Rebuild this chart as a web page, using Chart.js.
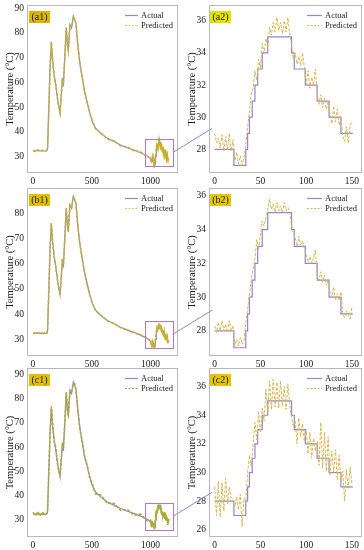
<!DOCTYPE html>
<html>
<head>
<meta charset="utf-8">
<script src="https://cdn.jsdelivr.net/npm/chart.js@4.4.1/dist/chart.umd.min.js"></script>
<style>
  html, body { margin: 0; padding: 0; background: #fff; }
  #wrap { position: relative; width: 364px; height: 550px; overflow: hidden; }
  #wrap canvas { position: absolute; }
</style>
</head>
<body>
<div id="wrap">
  <canvas id="c-a1" width="182" height="188" style="left:0;top:0"></canvas>
  <canvas id="c-a2" width="182" height="188" style="left:182px;top:0"></canvas>
  <canvas id="c-b1" width="182" height="188" style="left:0;top:183px"></canvas>
  <canvas id="c-b2" width="182" height="188" style="left:182px;top:183px"></canvas>
  <canvas id="c-c1" width="182" height="187" style="left:0;top:363px"></canvas>
  <canvas id="c-c2" width="182" height="187" style="left:182px;top:363px"></canvas>
  <canvas id="overlay" width="364" height="550" style="left:0;top:0;pointer-events:none"></canvas>
</div>
<script>
// full run (left column): time and temperature
const mainTime   = [0, 20, 40, 60, 80, 100, 118, 124, 135, 145, 156, 164, 180, 193, 212, 230, 241, 250, 258, 270, 283, 292, 300, 314, 328, 343, 354, 365, 382, 399, 419, 439, 462, 484, 504, 532, 575, 632, 688, 745, 802, 858, 915, 972, 1000];
const mainActual = [32.4, 32.3, 32.5, 32.3, 32.4, 32.3, 32.4, 33.5, 50, 66, 76, 70, 63, 59, 52.3, 47.6, 55, 61.8, 58.4, 70, 82, 76, 72.6, 83.4, 82, 86.8, 85.4, 84, 74.6, 67.8, 61.8, 56.4, 51.6, 47.6, 44.2, 41.5, 39.5, 37.4, 36.1, 34.7, 33.6, 32.7, 31.6, 30.3, 29.2];
const mainPredA  = [32.6, 32.1, 32.7, 32.2, 32.6, 32.1, 32.5, 33.8, 50.4, 65.6, 76.4, 70.5, 62.6, 59.4, 52.0, 47.9, 55.3, 61.5, 58.8, 69.6, 82.3, 75.6, 72.9, 83.1, 82.4, 86.5, 85.7, 83.7, 74.9, 67.5, 62.1, 56.1, 51.9, 47.3, 44.5, 41.2, 39.8, 37.1, 36.4, 34.4, 33.9, 32.4, 31.9, 30.0, 29.5];
const mainPredB  = [32.3, 32.4, 32.4, 32.4, 32.3, 32.4, 32.3, 33.6, 50.2, 65.8, 76.2, 70.2, 62.8, 59.2, 52.1, 47.7, 55.1, 61.7, 58.6, 69.8, 82.1, 75.8, 72.7, 83.2, 82.2, 86.6, 85.5, 83.9, 74.7, 67.7, 61.9, 56.3, 51.7, 47.5, 44.3, 41.4, 39.6, 37.3, 36.2, 34.6, 33.7, 32.6, 31.7, 30.2, 29.3];
const mainPredC  = [33.2, 31.8, 33.4, 31.7, 33.3, 31.9, 33.0, 34.2, 50.9, 65.1, 76.8, 71.1, 62.2, 59.9, 51.6, 48.3, 55.7, 61.1, 59.2, 69.3, 82.6, 75.2, 73.3, 82.7, 82.8, 86.2, 86.1, 83.4, 75.3, 67.1, 62.5, 55.8, 52.3, 46.9, 44.9, 40.8, 40.3, 36.8, 36.9, 34.0, 34.3, 32.0, 32.4, 29.6, 29.9];

// zoomed window (right column)
const ZOOM_OFFSET = 1005;
const stepTimes = [0, 21, 34, 36, 38, 41, 44, 47, 52, 58, 84, 87, 99, 112, 125, 138, 151];
const stepTemps = [28, 27, 28, 29, 30, 31, 32, 33, 34, 35, 34, 33, 32, 31, 30, 29];

const zoomTime = [0, 2, 4, 6, 8, 10, 12, 14, 16, 18, 20, 22, 24, 26, 28, 30, 32, 34, 36, 38, 40, 42, 44, 46, 48, 50, 52, 54, 56, 58, 60, 62, 64, 66, 68, 70, 72, 74, 76, 78, 80, 82, 84, 86, 88, 90, 92, 94, 96, 98, 100, 102, 104, 106, 108, 110, 112, 114, 116, 118, 120, 122, 124, 126, 128, 130, 132, 134, 136, 138, 140, 142, 144, 146, 148, 150];
const zoomPredA = [29.0, 28.4, 28.7, 28.1, 28.9, 27.9, 28.8, 28.0, 29.0, 27.9, 28.6, 27.3, 27.8, 27.1, 27.6, 27.0, 27.5, 28.3, 29.4, 30.4, 31.5, 31.8, 32.9, 32.3, 33.6, 33.0, 34.6, 34.0, 34.9, 34.3, 35.6, 35.1, 35.9, 35.3, 36.2, 35.4, 35.9, 35.2, 36.0, 35.3, 36.2, 35.2, 34.5, 33.6, 34.0, 33.3, 33.8, 33.2, 34.0, 33.1, 32.0, 32.9, 31.8, 32.5, 32.0, 33.0, 31.5, 30.8, 31.4, 30.6, 31.2, 30.5, 31.0, 30.2, 29.6, 30.7, 29.7, 30.5, 29.5, 30.0, 28.8, 28.5, 29.4, 28.4, 29.5, 29.8];
const zoomPredB = [28.3, 27.9, 28.5, 28.0, 28.6, 28.0, 28.4, 27.9, 28.6, 28.0, 28.3, 27.1, 27.5, 27.1, 27.6, 27.2, 27.4, 28.5, 29.3, 30.2, 31.0, 31.7, 32.3, 33.4, 32.8, 33.7, 34.5, 34.2, 34.7, 35.2, 35.8, 35.2, 35.5, 35.0, 35.6, 35.1, 35.4, 35.0, 35.6, 35.1, 35.3, 35.0, 34.3, 33.8, 33.5, 33.0, 33.6, 33.1, 33.3, 32.9, 32.5, 32.1, 32.4, 32.0, 32.3, 32.8, 31.3, 31.0, 31.5, 30.9, 31.3, 30.7, 31.0, 30.3, 30.0, 30.6, 29.8, 30.2, 29.8, 30.3, 29.0, 28.8, 29.2, 28.9, 28.7, 29.4];
const zoomPredC = [29.0, 27.0, 29.4, 26.9, 29.3, 27.3, 29.6, 27.8, 29.0, 28.2, 28.0, 27.6, 28.3, 27.4, 28.5, 26.2, 28.2, 28.0, 30.0, 31.2, 30.4, 32.0, 33.5, 32.3, 34.2, 32.8, 34.5, 33.6, 35.8, 34.2, 36.4, 34.4, 36.5, 34.6, 36.3, 34.5, 36.4, 34.7, 36.0, 34.4, 36.2, 34.8, 33.8, 33.2, 33.6, 32.0, 33.8, 32.5, 33.4, 32.2, 33.0, 31.3, 32.8, 31.0, 32.4, 31.5, 32.2, 30.5, 33.5, 30.3, 32.8, 30.1, 32.5, 29.8, 31.5, 30.0, 31.6, 29.5, 31.2, 29.4, 30.1, 28.0, 30.2, 28.9, 30.4, 29.3];

// axes
const leftXTicks = [0, 500, 1000];
const rightXTicks = [0, 50, 100, 150];
const leftYTicksA = [30, 40, 50, 60, 70, 80, 90];
const leftYTicksB = [30, 40, 50, 60, 70, 80];
const rightYTicksAB = [28, 30, 32, 34, 36];
const rightYTicksC = [26, 28, 30, 32, 34, 36];
const zoomBoxX = [950, 1190];

const ACTUAL_COLOR = '#8c88d8';
const SERIF = "'Liberation Serif', 'Times New Roman', serif";

function pairs(xs, ys, offset) {
  return ys.map((y, i) => ({ x: xs[i] + offset, y }));
}
function stepPoints(offset) {
  const pts = [];
  for (let i = 0; i < stepTemps.length; i++) {
    pts.push({ x: stepTimes[i] + offset, y: stepTemps[i] });
    pts.push({ x: stepTimes[i + 1] + offset, y: stepTemps[i] });
  }
  return pts;
}

const panelDecor = {
  id: 'panelDecor',
  afterDatasetsDraw(chart, args, o) {
    const { ctx, chartArea: a, scales } = chart;
    ctx.save();
    ctx.strokeStyle = '#b8b8b8';
    ctx.lineWidth = 1;
    ctx.strokeRect(a.left + 0.5, a.top + 0.5, a.width - 1, a.height - 1);

    if (o.box) {
      const x0 = scales.x.getPixelForValue(zoomBoxX[0]), x1 = scales.x.getPixelForValue(zoomBoxX[1]);
      const y0 = scales.y.getPixelForValue(o.box[1]), y1 = scales.y.getPixelForValue(o.box[0]);
      ctx.strokeStyle = '#b078c8';
      ctx.strokeRect(Math.round(x0) + 0.5, Math.round(y0) + 0.5, Math.round(x1 - x0), Math.round(y1 - y0));
    }

    // panel tag
    ctx.fillStyle = o.tagColor;
    ctx.fillRect(a.left + o.tagDx, a.top + 6, 21, 12);
    ctx.fillStyle = '#222';
    ctx.font = '10px ' + SERIF;
    ctx.textAlign = 'center';
    ctx.textBaseline = 'middle';
    ctx.fillText(o.tag, a.left + o.tagDx + 10.5, a.top + 12.5);

    // legend
    const lx0 = a.right - o.legLine[0], lx1 = a.right - o.legLine[1];
    ctx.font = '8.5px ' + SERIF;
    ctx.textAlign = 'left';
    ctx.lineWidth = 1.2;
    ctx.strokeStyle = ACTUAL_COLOR;
    ctx.beginPath(); ctx.moveTo(lx0, a.top + 10.5); ctx.lineTo(lx1, a.top + 10.5); ctx.stroke();
    ctx.strokeStyle = o.legPred;
    ctx.setLineDash([2, 1.5]);
    ctx.beginPath(); ctx.moveTo(lx0, a.top + 20.5); ctx.lineTo(lx1, a.top + 20.5); ctx.stroke();
    ctx.setLineDash([]);
    ctx.fillStyle = '#222';
    ctx.fillText('Actual', lx1 + 3, a.top + 10.5);
    ctx.fillText('Predicted', lx1 + 3, a.top + 20.5);
    ctx.restore();
  }
};
Chart.register(panelDecor);

function makeChart(id, c) {
  return new Chart(document.getElementById(id), {
    type: 'line',
    data: {
      datasets: [
        { label: 'Predicted', data: c.pred, borderColor: c.predColor, borderWidth: c.predWidth, borderDash: [3, 1.5], pointRadius: 0, tension: 0 },
        { label: 'Actual', data: c.actual, borderColor: ACTUAL_COLOR, borderWidth: 1.2, pointRadius: 0, tension: 0 }
      ]
    },
    options: {
      responsive: false,
      animation: false,
      events: [],
      layout: { padding: { top: 5, right: c.padRight, left: 0, bottom: 0 } },
      plugins: {
        legend: { display: false },
        tooltip: { enabled: false },
        panelDecor: c.decor
      },
      scales: {
        x: {
          type: 'linear', min: c.xRange[0], max: c.xRange[1],
          grid: { display: false, drawTicks: false }, border: { display: false },
          ticks: { font: { family: SERIF, size: 9.5 }, color: '#1a1a1a', padding: 3, maxRotation: 0, callback: v => String(v) },
          afterBuildTicks: s => { s.ticks = c.xTicks.map(v => ({ value: v })); },
          afterFit: s => { s.height = c.xAxisH; s.paddingLeft = s.paddingRight = s.paddingTop = s.paddingBottom = 0; }
        },
        y: {
          type: 'linear', min: c.yRange[0], max: c.yRange[1],
          grid: { display: false, drawTicks: false }, border: { display: false },
          ticks: { font: { family: SERIF, size: 9.5 }, color: '#1a1a1a', padding: 3, callback: v => String(v) },
          title: { display: true, text: 'Temperature (°C)', font: { family: SERIF, size: 10.5 }, color: '#1a1a1a', padding: { top: 4, bottom: 0 } },
          afterBuildTicks: s => { s.ticks = c.yTicks.map(v => ({ value: v })); },
          afterFit: s => { s.width = 27; s.paddingLeft = s.paddingRight = s.paddingTop = s.paddingBottom = 0; }
        }
      }
    }
  });
}

const leftActual = pairs(mainTime, mainActual, 0).concat(stepPoints(ZOOM_OFFSET));
const rightActual = stepPoints(0);

const rows = [
  { l: 'c-a1', r: 'c-a2', mainPred: mainPredA, zoomPred: zoomPredA, xAxisH: 15,
    lY: [23.4, 91.3], lTicks: leftYTicksA, rY: [26.53, 36.98], rTicks: rightYTicksAB, box: [26.2, 37.2],
    tags: ['(a1)', '(a2)'], tagColors: ['#dab400', '#e2e200'], lPred: '#c7b02c', lLeg: '#e0c860' },
  { l: 'c-b1', r: 'c-b2', mainPred: mainPredB, zoomPred: zoomPredB, xAxisH: 15,
    lY: [23.3, 90.1], lTicks: leftYTicksB, rY: [26.51, 36.46], rTicks: rightYTicksAB, box: [26.6, 37.3],
    tags: ['(b1)', '(b2)'], tagColors: ['#e2bf00', '#e6c800'], lPred: '#c7b02c', lLeg: '#e0c860' },
  { l: 'c-c1', r: 'c-c2', mainPred: mainPredC, zoomPred: zoomPredC, xAxisH: 13,
    lY: [23.0, 92.5], lTicks: leftYTicksA, rY: [25.5, 37.3], rTicks: rightYTicksC, box: [25.9, 37.1],
    tags: ['(c1)', '(c2)'], tagColors: ['#e2c000', '#e6c400'], lPred: '#b0aa2c', lLeg: '#6db35a' }
];

const built = rows.map(r => {
  const left = makeChart(r.l, {
    actual: leftActual,
    pred: pairs(mainTime, r.mainPred, 0).concat(pairs(zoomTime, r.zoomPred, ZOOM_OFFSET)),
    predColor: r.lPred, predWidth: 1.6, padRight: 4, xAxisH: r.xAxisH,
    xRange: [-51, 1233], xTicks: leftXTicks, yRange: r.lY, yTicks: r.lTicks,
    decor: { tag: r.tags[0], tagColor: r.tagColors[0], tagDx: 2, box: r.box, legLine: [53, 40], legPred: r.lLeg }
  });
  const right = makeChart(r.r, {
    actual: rightActual,
    pred: pairs(zoomTime, r.zoomPred, 0),
    predColor: '#d9b650', predWidth: 1, padRight: 2, xAxisH: r.xAxisH,
    xRange: [-6.2, 161], xTicks: rightXTicks, yRange: r.rY, yTicks: r.rTicks,
    decor: { tag: r.tags[1], tagColor: r.tagColors[1], tagDx: 1, box: null, legLine: [55, 40], legPred: '#d9b650' }
  });
  return { left, right, box: r.box };
});

// connector lines from the zoom box to the zoomed panel
const ov = document.getElementById('overlay').getContext('2d');
ov.strokeStyle = '#8a88d4';
ov.lineWidth = 1;
built.forEach(b => {
  const L = b.left, R = b.right;
  const x0 = L.canvas.offsetLeft + L.scales.x.getPixelForValue(zoomBoxX[1]);
  const y0 = L.canvas.offsetTop + (L.scales.y.getPixelForValue(b.box[0]) + L.scales.y.getPixelForValue(b.box[1])) / 2;
  const x1 = R.canvas.offsetLeft + R.chartArea.left + 3;
  ov.beginPath();
  ov.moveTo(x0, y0);
  ov.lineTo(x1, y0 - 24);
  ov.stroke();
});
</script>
</body>
</html>
